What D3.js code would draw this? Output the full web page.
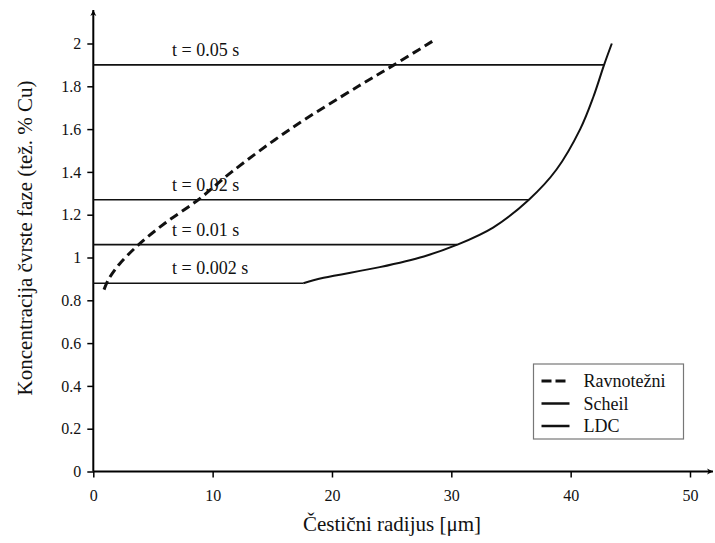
<!DOCTYPE html>
<html>
<head>
<meta charset="utf-8">
<script src="https://cdn.jsdelivr.net/npm/d3@7"></script>
<style>
  body { margin: 0; background: #fff; }
</style>
</head>
<body>
<div id="chart"></div>
<script>
// Ravnotežni (dashed)
const ravnotezniX = [0.9, 1.3, 2.2, 3.8, 6, 8.8, 11.6, 16.5, 22.2, 25.2, 28.4];
const ravnotezniY = [0.85, 0.9, 0.97, 1.06, 1.16, 1.27, 1.4, 1.6, 1.8, 1.9, 2.01];
// Scheil (solid curve)
const scheilX = [17.6, 19.3, 24, 27.7, 30.5, 33.5, 36.5, 38.8, 40.8, 41.9, 42.8, 43.45];
const scheilY = [0.88, 0.905, 0.955, 1.005, 1.06, 1.14, 1.27, 1.41, 1.6, 1.75, 1.9, 2.0];
// LDC time levels (horizontal lines)
const ldcLabels = ['t = 0.05 s', 't = 0.02 s', 't = 0.01 s', 't = 0.002 s'];
const ldcLevel = [1.9, 1.27, 1.06, 0.88];
const ldcEnd = [42.8, 36.5, 30.5, 17.6];
const xTicks = [0, 10, 20, 30, 40, 50];
const yTicks = [0, 0.2, 0.4, 0.6, 0.8, 1, 1.2, 1.4, 1.6, 1.8, 2];
const legendNames = ['Ravnotežni', 'Scheil', 'LDC'];

// pick an installed serif face
function pickSerif() {
  const ctx = document.createElement('canvas').getContext('2d');
  const probe = 'Koncentracija čvrste faze 0123';
  const fams = ['Liberation Serif', 'Times New Roman', 'Tinos', 'DejaVu Serif', 'Noto Serif', 'FreeSerif'];
  for (const base of ['monospace', 'sans-serif']) {
    ctx.font = `20px ${base}`;
    const w0 = ctx.measureText(probe).width;
    for (const f of fams) {
      ctx.font = `20px "${f}", ${base}`;
      if (Math.abs(ctx.measureText(probe).width - w0) > 0.5) return `"${f}", serif`;
    }
  }
  return 'serif';
}
const serif = pickSerif();

const width = 715, height = 543;
const svg = d3.select('#chart').append('svg')
  .attr('width', width)
  .attr('height', height)
  .style('font-family', serif);

const x = d3.scaleLinear().domain([0, 50]).range([93.3, 690]);
const y = d3.scaleLinear().domain([0, 2]).range([471.5, 43.5]);

// arrow marker
svg.append('defs').append('marker')
  .attr('id', 'arrow')
  .attr('viewBox', '0 0 10 10')
  .attr('refX', 10).attr('refY', 5)
  .attr('markerWidth', 6).attr('markerHeight', 7)
  .attr('markerUnits', 'userSpaceOnUse')
  .attr('orient', 'auto')
  .append('path')
  .attr('d', 'M0,0 L10,5 L0,10 L3,5 Z')
  .attr('fill', '#000');

// axes
const xAxis = svg.append('g')
  .attr('transform', `translate(0,${y(0)})`)
  .call(d3.axisBottom(x).tickValues(xTicks).tickSize(6).tickPadding(12).tickFormat(d3.format('d')));
xAxis.attr('font-family', null).attr('font-size', 16);
xAxis.select('.domain').remove();
xAxis.selectAll('line').attr('stroke-width', 1.5);
xAxis.selectAll('text').attr('fill', '#111').style('font-family', serif);

const yAxis = svg.append('g')
  .attr('transform', `translate(${x(0)},0)`)
  .call(d3.axisLeft(y).tickValues(yTicks).tickSize(6).tickPadding(6).tickFormat(d => String(d)));
yAxis.attr('font-family', null).attr('font-size', 16);
yAxis.select('.domain').remove();
yAxis.selectAll('line').attr('stroke-width', 1.5);
yAxis.selectAll('text').attr('fill', '#111').style('font-family', serif);

svg.append('line')
  .attr('x1', x(0)).attr('x2', 713)
  .attr('y1', y(0)).attr('y2', y(0))
  .attr('stroke', '#000').attr('stroke-width', 2)
  .attr('marker-end', 'url(#arrow)');
svg.append('line')
  .attr('x1', x(0)).attr('x2', x(0))
  .attr('y1', y(0)).attr('y2', 10)
  .attr('stroke', '#000').attr('stroke-width', 2)
  .attr('marker-end', 'url(#arrow)');

// axis titles
svg.append('text')
  .attr('x', 392).attr('y', 531)
  .attr('text-anchor', 'middle')
  .attr('font-size', 21)
  .attr('fill', '#111')
  .text('Čestični radijus [μm]');
svg.append('text')
  .attr('transform', 'translate(32,238) rotate(-90)')
  .attr('text-anchor', 'middle')
  .attr('font-size', 21)
  .attr('fill', '#111')
  .text('Koncentracija čvrste faze (tež. % Cu)');

// LDC horizontal lines
svg.selectAll('.ldc')
  .data(ldcLevel)
  .enter().append('line')
  .attr('class', 'ldc')
  .attr('x1', x(0))
  .attr('x2', (d, i) => x(ldcEnd[i]))
  .attr('y1', d => y(d))
  .attr('y2', d => y(d))
  .attr('stroke', '#111')
  .attr('stroke-width', 1.6);

svg.selectAll('.ldc-label')
  .data(ldcLevel)
  .enter().append('text')
  .attr('class', 'ldc-label')
  .attr('x', 172)
  .attr('y', d => y(d) - 9)
  .attr('font-size', 18)
  .attr('fill', '#111')
  .text((d, i) => ldcLabels[i]);

const line = d3.line()
  .x(d => x(d[0]))
  .y(d => y(d[1]))
  .curve(d3.curveCatmullRom);

// Scheil curve
svg.append('path')
  .datum(scheilX.map((v, i) => [v, scheilY[i]]))
  .attr('fill', 'none')
  .attr('stroke', '#111')
  .attr('stroke-width', 2)
  .attr('d', line);

// Ravnotezni dashed
svg.append('path')
  .datum(ravnotezniX.map((v, i) => [v, ravnotezniY[i]]))
  .attr('fill', 'none')
  .attr('stroke', '#111')
  .attr('stroke-width', 3)
  .attr('stroke-dasharray', '9,5')
  .attr('d', line);

// legend
const legend = svg.append('g').attr('transform', 'translate(533.5,364)');
legend.append('rect')
  .attr('width', 150).attr('height', 75)
  .attr('fill', '#fff')
  .attr('stroke', '#777')
  .attr('stroke-width', 1.2);
legendNames.forEach((name, i) => {
  const cy = 17 + i * 22.5;
  legend.append('line')
    .attr('x1', 8).attr('x2', 36)
    .attr('y1', cy).attr('y2', cy)
    .attr('stroke', '#111')
    .attr('stroke-width', i === 0 ? 3 : 2.5)
    .attr('stroke-dasharray', i === 0 ? '10,4' : null);
  legend.append('text')
    .attr('x', 50).attr('y', cy + 6)
    .attr('font-size', 18)
    .attr('fill', '#111')
    .text(name);
});
</script>
</body>
</html>
